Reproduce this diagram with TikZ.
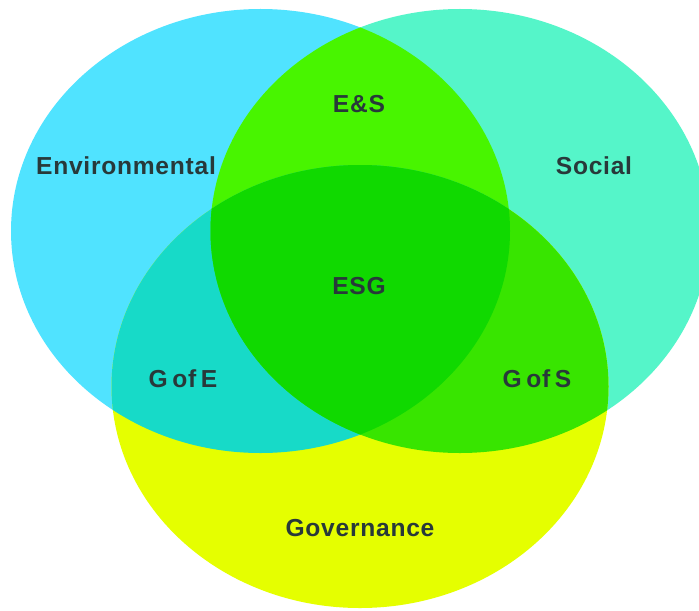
\documentclass[tikz,border=0pt]{standalone}
\usepackage{fontspec}
\setmainfont[LetterSpace=3, WordSpace=0.6]{Liberation Sans}
\usetikzlibrary{positioning}
\definecolor{envcol}{HTML}{50E3FF}
\definecolor{soccol}{HTML}{55F5C9}
\definecolor{govcol}{HTML}{E5FF00}
\definecolor{escol}{HTML}{48F500}
\definecolor{gecol}{HTML}{17DAC8}
\definecolor{gscol}{HTML}{38E500}
\definecolor{esgcol}{HTML}{10D900}
\definecolor{labelcol}{HTML}{28393A}
\tikzstyle{every node}=[font=\bfseries\fontsize{28}{30}\selectfont, text=labelcol]
\newcommand{\envpath}{(260.5,231) ellipse [x radius=249.5, y radius=222]}
\newcommand{\socpath}{(460,231) ellipse [x radius=249.5, y radius=222]}
\newcommand{\govpath}{(360,386.5) ellipse [x radius=248.5, y radius=221.5]}

\begin{document}
\begin{tikzpicture}[x=0.4mm, y=-0.4mm]
  \useasboundingbox (0,0) rectangle (699,610);
  \fill[white] (0,0) rectangle (699,610);
  % single sets
  \fill[envcol] \envpath;
  \fill[soccol] \socpath;
  \fill[govcol] \govpath;
  % overlaps of two
  \begin{scope}
    \clip \envpath;
    \fill[escol] \socpath;
    \fill[gecol] \govpath;
  \end{scope}
  \begin{scope}
    \clip \socpath;
    \fill[gscol] \govpath;
  \end{scope}
  % all three
  \begin{scope}
    \clip \envpath;
    \clip \socpath;
    \fill[esgcol] \govpath;
  \end{scope}
  % labels
  \node (E) at (126,166) {Environmental};
  \node (S) at (594,166) {Social};
  \node (G) at (360,528) {Governance};
  \node (ES) at (359,104) {E\&S};
  \node (ESG) at (359,286) {ESG};
  \node (GE) at (183,379) {G of E};
  \node (GS) at (537,379) {G of S};
\end{tikzpicture}
\end{document}
